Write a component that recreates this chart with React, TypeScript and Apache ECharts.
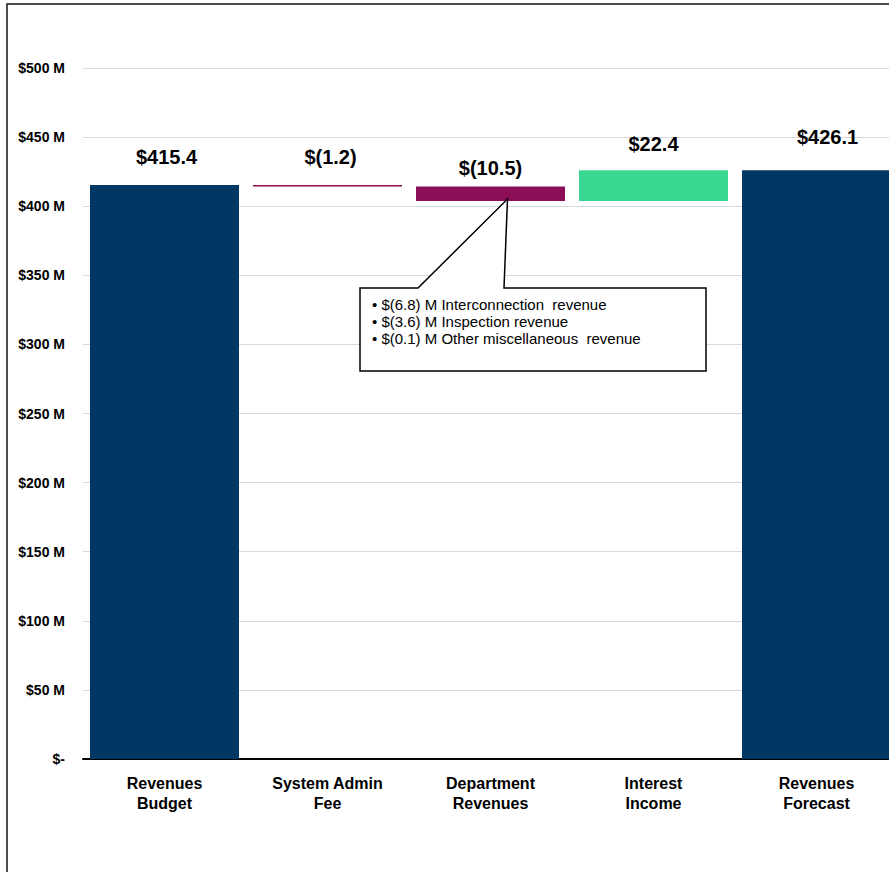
import React, { useEffect, useRef } from "react";
import * as echarts from "echarts";

const categories = [
  "Revenues\nBudget",
  "System Admin\nFee",
  "Department\nRevenues",
  "Interest\nIncome",
  "Revenues\nForecast",
];
const changes = [415.4, -1.2, -10.5, 22.4, 426.1];
const kinds = ["total", "delta", "delta", "delta", "total"];
const yTicks = [0, 50, 100, 150, 200, 250, 300, 350, 400, 450, 500];
const calloutLines = [
  "• $(6.8) M Interconnection  revenue",
  "• $(3.6) M Inspection revenue",
  "• $(0.1) M Other miscellaneous  revenue",
];
const calloutCategory = 2;

const NAVY = "#003764";
const NEG = "#8B0E57";
const POS = "#3AD793";
const FONT = "'Liberation Sans', Arial, sans-serif";

export default function App() {
  const ref = useRef<HTMLDivElement>(null);

  useEffect(() => {
    if (!ref.current) return;
    const chart = echarts.init(ref.current, undefined, { renderer: "svg" });

    const bases: number[] = [];
    const heights: number[] = [];
    let running = 0;
    changes.forEach((v, i) => {
      if (kinds[i] === "total") {
        bases.push(0);
        heights.push(v);
        running = v;
      } else if (v >= 0) {
        bases.push(running);
        heights.push(v);
        running += v;
      } else {
        running += v;
        bases.push(running);
        heights.push(-v);
      }
    });

    const labelDist = [18, 18, 9, 16, 23];
    const labelShift = [2, 3, 0, 0, 11];
    const fmt = (v: number) =>
      v < 0 ? `$(${Math.abs(v).toFixed(1)})` : `$${v.toFixed(1)}`;

    chart.setOption({
      animation: false,
      textStyle: { fontFamily: FONT },
      grid: { left: 83, right: 0, top: 68, bottom: 113 },
      xAxis: {
        type: "category",
        data: categories,
        axisLine: { show: true, lineStyle: { color: "#000", width: 2 } },
        axisTick: { show: false },
        axisLabel: {
          interval: 0,
          color: "#000",
          fontSize: 16,
          fontWeight: "bold",
          lineHeight: 20,
          margin: 14,
          fontFamily: FONT,
        },
      },
      yAxis: {
        type: "value",
        min: yTicks[0],
        max: yTicks[yTicks.length - 1],
        interval: yTicks[1] - yTicks[0],
        axisLine: { show: false },
        axisTick: { show: false },
        splitLine: { lineStyle: { color: "#d9d9d9", width: 1 } },
        axisLabel: {
          color: "#000",
          fontSize: 14,
          fontWeight: "bold",
          margin: 18,
          fontFamily: FONT,
          formatter: (v: number) => (v === 0 ? "$-" : `$${v} M`),
        },
      },
      series: [
        {
          type: "bar",
          stack: "wf",
          barWidth: 149,
          silent: true,
          itemStyle: { color: "transparent" },
          data: bases,
        },
        {
          type: "bar",
          stack: "wf",
          barWidth: 149,
          data: heights.map((h, i) => ({
            value: h,
            itemStyle: {
              color:
                kinds[i] === "total" ? NAVY : changes[i] < 0 ? NEG : POS,
            },
            label: {
              show: true,
              position: "top",
              distance: labelDist[i],
              offset: [labelShift[i], 0],
              formatter: () => fmt(changes[i]),
              fontSize: 20,
              fontWeight: "bold",
              color: "#000",
              fontFamily: FONT,
            },
          })),
        },
      ],
    });

    const tip = chart.convertToPixel({ xAxisIndex: 0, yAxisIndex: 0 }, [
      calloutCategory,
      bases[calloutCategory],
    ]) as number[];
    const tx = tip[0] + 17;
    const ty = tip[1] - 2;

    chart.setOption({
      graphic: [
        {
          type: "rect",
          shape: { x: 7, y: 4, width: 960, height: 960 },
          style: { fill: "none", stroke: "#111", lineWidth: 1.5 },
          silent: true,
        },
        {
          type: "polygon",
          shape: {
            points: [
              [360, 288],
              [418, 288],
              [tx, ty],
              [504, 288],
              [706, 288],
              [706, 371],
              [360, 371],
            ],
          },
          style: { fill: "#fff", stroke: "#000", lineWidth: 1.5 },
          z: 100,
        },
        {
          type: "text",
          x: 372,
          y: 296,
          z: 101,
          style: {
            text: calloutLines.join("\n"),
            font: `15px ${FONT}`,
            lineHeight: 17,
            fill: "#000",
          },
        },
      ],
    });

    return () => chart.dispose();
  }, []);

  return (
    <div
      style={{
        position: "absolute",
        left: 0,
        top: 0,
        width: 889,
        height: 872,
        overflow: "hidden",
      }}
    >
      <div ref={ref} style={{ width: 898, height: 872 }} />
    </div>
  );
}
